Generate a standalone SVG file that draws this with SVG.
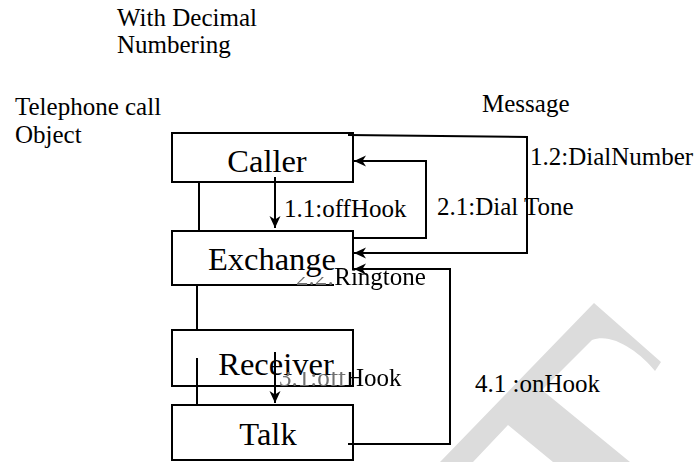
<svg xmlns="http://www.w3.org/2000/svg" width="697" height="462" viewBox="0 0 697 462">
  <style>
    .lbl { font-family: "Liberation Serif", "Times New Roman", serif; font-size: 25px; fill: #000; }
    .name { font-family: "Liberation Serif", "Times New Roman", serif; font-size: 32.5px; fill: #000; text-anchor: middle; }
    .box { fill: #fff; stroke: #000; stroke-width: 2; }
    .wire { fill: none; stroke: #000; stroke-width: 2; }
    .mark { fill: #dcdcdc; stroke: none; }
    .dim { fill: #707070; }
  </style>
  <defs>
    <marker id="head" viewBox="0 0 12 12" refX="12" refY="6" markerWidth="12" markerHeight="12" markerUnits="userSpaceOnUse" orient="auto">
      <path d="M0,0.5 L12,6 L0,11.5 L3.5,6 Z" fill="#000"/>
    </marker>
    <!-- label frames tucked under the node captions -->
    <mask id="underExchange" maskUnits="userSpaceOnUse" x="0" y="0" width="697" height="462">
      <rect width="697" height="462" fill="#fff"/>
      <rect x="280" y="250" width="54" height="27" fill="#000"/>
    </mask>
    <mask id="underReceiver" maskUnits="userSpaceOnUse" x="0" y="0" width="697" height="462">
      <rect width="697" height="462" fill="#fff"/>
      <rect x="270" y="355" width="82" height="17" fill="#000"/>
    </mask>
  </defs>
  <rect width="697" height="462" fill="#fff"/>

  <!-- background mark, lower right -->
  <g id="backdrop">
    <path class="mark" d="M440,462 L594,303 L661,362 L655,371 C640,352 612,332 592,340 L542,390 L630,462 L553,462 L508,425 L473,462 Z"/>
  </g>

  <!-- headings -->
  <g id="titles" class="lbl">
    <text x="117" y="26">With Decimal</text>
    <text x="117" y="53">Numbering</text>
    <text x="15" y="115">Telephone call</text>
    <text x="15" y="143">Object</text>
    <text x="482" y="112">Message</text>
  </g>

  <!-- objects -->
  <g id="caller">
    <rect class="box" x="172" y="133" width="181" height="49"/>
    <text class="name" x="267" y="172">Caller</text>
  </g>
  <g id="exchange">
    <rect class="box" x="172" y="231" width="181" height="54"/>
    <text class="name" x="272" y="270">Exchange</text>
  </g>
  <g id="receiver">
    <rect class="box" x="172" y="330" width="181" height="56"/>
    <text class="name" x="276" y="375">Receiver</text>
  </g>
  <g id="talk">
    <rect class="box" x="172" y="405" width="181" height="55"/>
    <text class="name" x="268" y="445">Talk</text>
  </g>

  <!-- message labels -->
  <g id="labels" class="lbl">
    <text x="530" y="165">1.2:DialNumber</text>
    <text x="437" y="215">2.1:Dial Tone</text>
    <text x="284" y="217">1.1:offHook</text>
    <g mask="url(#underExchange)">
      <rect x="334" y="270.5" width="92" height="20" fill="#fff"/>
      <text x="296" y="285"><tspan class="dim">2.2:</tspan>Ringtone</text>
    </g>
    <text x="279" y="386" mask="url(#underReceiver)"><tspan class="dim">3.1:off</tspan>Hook</text>
    <text x="475" y="392">4.1 :onHook</text>
  </g>

  <!-- links and messages -->
  <g id="connectors">
    <path class="wire" d="M199,182 V231"/>
    <path class="wire" d="M197,285 V330"/>
    <path class="wire" d="M197,358 V405"/>
    <path class="wire" d="M275,177 V228" marker-end="url(#head)"/>
    <path class="wire" d="M353,238 H426 V161 H354" marker-end="url(#head)"/>
    <path class="wire" d="M348,135 L527,137 V253 H354" marker-end="url(#head)"/>
    <path class="wire" d="M348,444 H450 V269 H354" marker-end="url(#head)"/>
    <path class="wire" d="M275,352 V403" marker-end="url(#head)"/>
  </g>
</svg>
